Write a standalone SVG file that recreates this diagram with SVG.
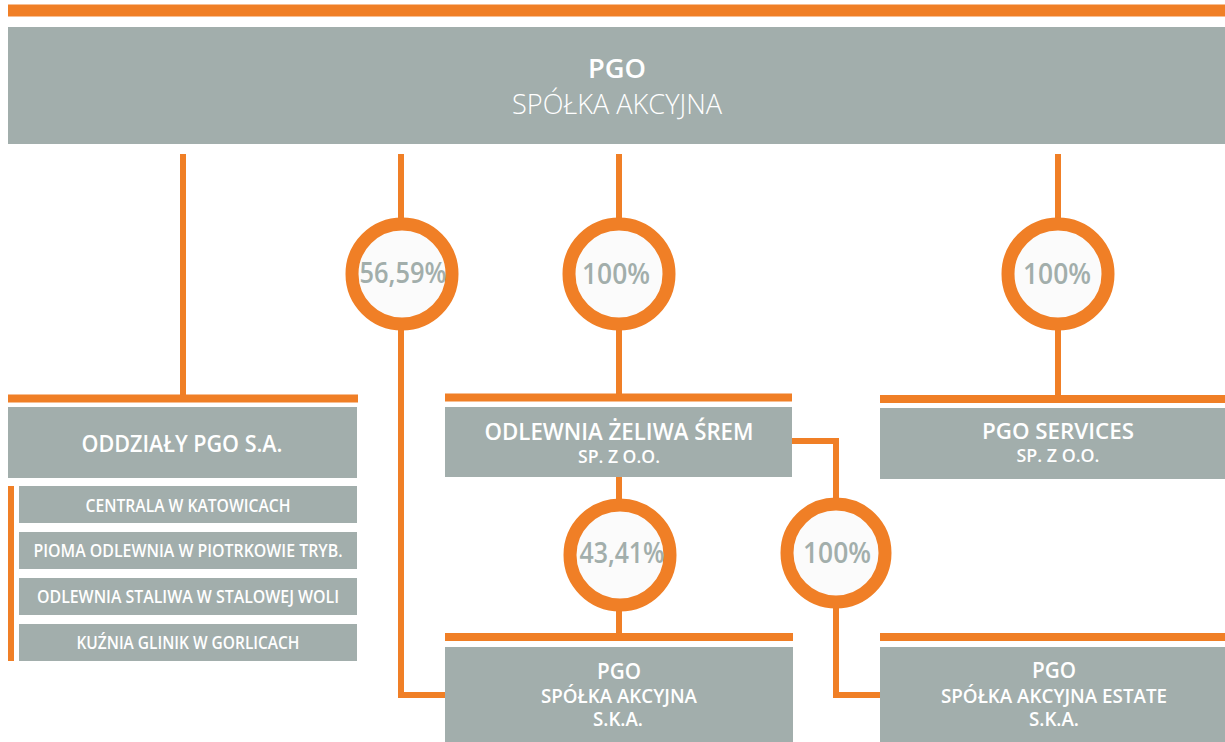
<svg xmlns="http://www.w3.org/2000/svg" width="1225" height="742" viewBox="0 0 1225 742">
<style>
.box{fill:#a2aeac}
.bar{fill:#f07f26}
.ln{fill:none;stroke:#f07f26;stroke-width:6}
.ring{fill:#fbfbfb;stroke:#f07f26;stroke-width:13}
.t{font-family:"Open Sans","Liberation Sans",Arial,sans-serif;fill:#ffffff;text-anchor:middle}
.b{font-weight:600}
.l{font-weight:300}
.pct{font-family:"Open Sans","Liberation Sans",Arial,sans-serif;font-weight:600;fill:#a2aeab;text-anchor:middle;font-size:29px}
</style>
<rect width="1225" height="742" fill="#ffffff"/>
<g id="connectors">
<rect class="bar" x="8" y="4.5" width="1217" height="12"/>
<path class="ln" d="M183 154V395"/>
<path class="ln" d="M401 154V218M401 330V695H446"/>
<path class="ln" d="M619 154V218M619 330V395"/>
<path class="ln" d="M1058 154V218M1058 330V395"/>
<path class="ln" d="M619 476V499M619 610V634"/>
<path class="ln" d="M791 441H836V498M836 608V695H881"/>
<rect class="bar" x="8" y="394.5" width="350" height="8"/>
<rect class="bar" x="445" y="393.5" width="347" height="8"/>
<rect class="bar" x="880" y="395" width="345" height="8"/>
<rect class="bar" x="445" y="633" width="348" height="8"/>
<rect class="bar" x="880" y="633" width="345" height="8"/>
<rect class="bar" x="8" y="486" width="6" height="175"/>
</g>
<g id="pgo-sa">
<rect class="box" x="8" y="27" width="1217" height="117"/>
<text class="t b" x="617" y="78" font-size="27" textLength="58" lengthAdjust="spacingAndGlyphs">PGO</text>
<text class="t l" x="617" y="114" font-size="27" textLength="210" lengthAdjust="spacingAndGlyphs">SPÓŁKA AKCYJNA</text>
</g>
<g id="oddzialy">
<rect class="box" x="8" y="407" width="349" height="71"/>
<text class="t b" x="182" y="452" font-size="23" textLength="201" lengthAdjust="spacingAndGlyphs">ODDZIAŁY PGO S.A.</text>
</g>
<g id="centrala">
<rect class="box" x="19" y="486" width="338" height="37"/>
<text class="t b" x="188" y="512" font-size="17.5" textLength="205" lengthAdjust="spacingAndGlyphs">CENTRALA W KATOWICACH</text>
</g>
<g id="pioma">
<rect class="box" x="19" y="532" width="338" height="37"/>
<text class="t b" x="188" y="557" font-size="17.5" textLength="309" lengthAdjust="spacingAndGlyphs">PIOMA ODLEWNIA W PIOTRKOWIE TRYB.</text>
</g>
<g id="stalowa-wola">
<rect class="box" x="19" y="578" width="338" height="37"/>
<text class="t b" x="188" y="603" font-size="17.5" textLength="302" lengthAdjust="spacingAndGlyphs">ODLEWNIA STALIWA W STALOWEJ WOLI</text>
</g>
<g id="glinik">
<rect class="box" x="19" y="624" width="338" height="37"/>
<text class="t b" x="188" y="649" font-size="17.5" textLength="223" lengthAdjust="spacingAndGlyphs">KUŹNIA GLINIK W GORLICACH</text>
</g>
<g id="srem">
<rect class="box" x="445" y="407" width="347" height="70"/>
<text class="t b" x="619" y="440" font-size="23" textLength="269" lengthAdjust="spacingAndGlyphs">ODLEWNIA ŻELIWA ŚREM</text>
<text class="t b" x="619" y="463" font-size="18" textLength="82" lengthAdjust="spacingAndGlyphs">SP. Z O.O.</text>
</g>
<g id="services">
<rect class="box" x="880" y="408" width="345" height="71"/>
<text class="t b" x="1058" y="439" font-size="22" textLength="152" lengthAdjust="spacingAndGlyphs">PGO SERVICES</text>
<text class="t b" x="1058" y="462" font-size="18" textLength="83" lengthAdjust="spacingAndGlyphs">SP. Z O.O.</text>
</g>
<g id="pgo-ska">
<rect class="box" x="445" y="647" width="348" height="95"/>
<text class="t b" x="619" y="679" font-size="21" textLength="44" lengthAdjust="spacingAndGlyphs">PGO</text>
<text class="t b" x="619" y="703" font-size="19.5" textLength="156" lengthAdjust="spacingAndGlyphs">SPÓŁKA AKCYJNA</text>
<text class="t b" x="618" y="726" font-size="19.5" textLength="50" lengthAdjust="spacingAndGlyphs">S.K.A.</text>
</g>
<g id="pgo-estate">
<rect class="box" x="880" y="647" width="345" height="95"/>
<text class="t b" x="1054" y="678" font-size="21" textLength="44" lengthAdjust="spacingAndGlyphs">PGO</text>
<text class="t b" x="1054" y="703" font-size="19.5" textLength="226" lengthAdjust="spacingAndGlyphs">SPÓŁKA AKCYJNA ESTATE</text>
<text class="t b" x="1054" y="726" font-size="19.5" textLength="50" lengthAdjust="spacingAndGlyphs">S.K.A.</text>
</g>
<g id="pct-5659">
<circle class="ring" cx="402" cy="274" r="50"/>
<text class="pct" x="403" y="283" textLength="87" lengthAdjust="spacingAndGlyphs">56,59%</text>
</g>
<g id="pct-100-srem">
<circle class="ring" cx="619" cy="274" r="50"/>
<text class="pct" x="616" y="284" textLength="68" lengthAdjust="spacingAndGlyphs">100%</text>
</g>
<g id="pct-100-services">
<circle class="ring" cx="1058" cy="274" r="50"/>
<text class="pct" x="1057" y="284" textLength="68" lengthAdjust="spacingAndGlyphs">100%</text>
</g>
<g id="pct-4341">
<circle class="ring" cx="620" cy="555" r="50"/>
<text class="pct" x="622" y="563" textLength="85" lengthAdjust="spacingAndGlyphs">43,41%</text>
</g>
<g id="pct-100-estate">
<circle class="ring" cx="836" cy="553" r="49"/>
<text class="pct" x="837" y="563" textLength="68" lengthAdjust="spacingAndGlyphs">100%</text>
</g>
</svg>
